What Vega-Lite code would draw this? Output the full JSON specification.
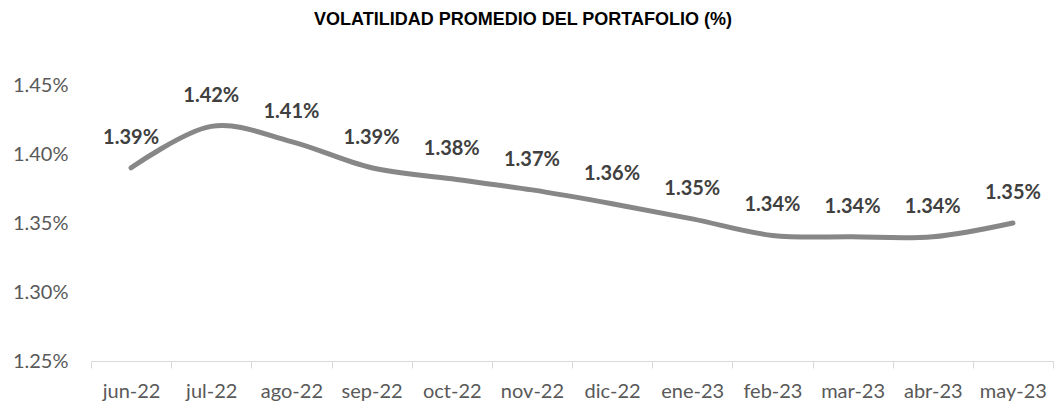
{
  "$schema": "https://vega.github.io/schema/vega-lite/v6.json",
  "autosize": "none",
  "width": 962,
  "height": 276,
  "padding": {"left": 91, "top": 85, "right": 3, "bottom": 44},
  "background": "white",
  "title": {
    "text": "VOLATILIDAD PROMEDIO DEL PORTAFOLIO (%)",
    "font": "Liberation Sans",
    "fontSize": 18,
    "fontWeight": "bold",
    "color": "#000000",
    "anchor": "middle",
    "offset": 46,
    "dx": -49
  },
  "config": {"view": {"stroke": null}},
  "data": {
    "values": [
      {"mes": "jun-22", "v": 1.390},
      {"mes": "jul-22", "v": 1.420},
      {"mes": "ago-22", "v": 1.409},
      {"mes": "sep-22", "v": 1.390},
      {"mes": "oct-22", "v": 1.382},
      {"mes": "nov-22", "v": 1.374},
      {"mes": "dic-22", "v": 1.364},
      {"mes": "ene-23", "v": 1.353},
      {"mes": "feb-23", "v": 1.341},
      {"mes": "mar-23", "v": 1.340},
      {"mes": "abr-23", "v": 1.340},
      {"mes": "may-23", "v": 1.350}
    ]
  },
  "encoding": {
    "x": {
      "field": "mes", "type": "ordinal", "sort": null,
      "scale": {"type": "band", "paddingInner": 0, "paddingOuter": 0},
      "axis": {
        "title": null, "labelAngle": 0, "tickBand": "extent",
        "domainColor": "#d9d9d9", "tickColor": "#d9d9d9", "tickSize": 7,
        "labelFont": "Lato", "labelFontSize": 20, "labelColor": "#595959",
        "labelPadding": 13, "grid": false
      }
    },
    "y": {
      "field": "v", "type": "quantitative",
      "scale": {"domain": [1.25, 1.45], "nice": false, "zero": false},
      "axis": {
        "title": null, "values": [1.25, 1.30, 1.35, 1.40, 1.45],
        "labelExpr": "format(datum.value, '.2f') + '%'",
        "domain": false, "ticks": false, "grid": false,
        "labelFont": "Lato", "labelFontSize": 20, "labelColor": "#595959",
        "labelPadding": 23
      }
    }
  },
  "layer": [
    {
      "mark": {"type": "line", "interpolate": "cardinal", "color": "#878787", "strokeWidth": 5, "strokeCap": "round"}
    },
    {
      "mark": {"type": "text", "font": "Lato", "fontSize": 20, "fontWeight": "bold", "color": "#404040", "baseline": "middle", "dy": -30,
               "text": {"expr": "format(datum.v, '.2f') + '%'"}}
    }
  ]
}
